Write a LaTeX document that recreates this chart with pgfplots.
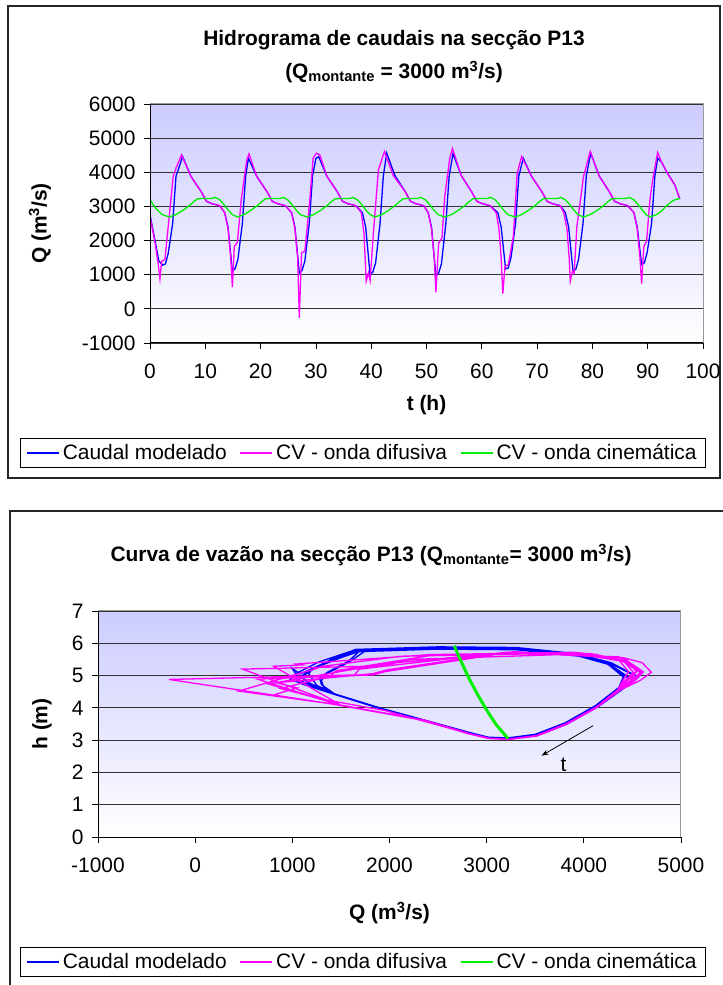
\documentclass[border=0pt]{standalone}
\usepackage{fontspec}
\setmainfont{Liberation Sans}
\usepackage{pgfplots}
\pgfplotsset{compat=1.18}
\usetikzlibrary{arrows.meta}

\definecolor{serblue}{RGB}{0,0,255}
\definecolor{serpink}{RGB}{255,0,255}
\definecolor{sergreen}{RGB}{0,240,0}
\definecolor{bgtop}{RGB}{204,204,255}

\newcommand{\fs}{\fontsize{21}{25}\selectfont}

\pgfplotsset{
  excel/.style={
    scale only axis,
    axis background/.style={shade, top color=bgtop, bottom color=white},
    axis line style={draw=gray!80, line width=1bp},
    tick align=outside,
    major tick length=6bp,
    tick style={black, line width=0.8bp},
    xtick pos=bottom, ytick pos=left,
    ymajorgrids,
    grid style={black!80, line width=0.8bp},
    tick label style={font=\fs},
    xticklabel style={yshift=-11bp},
    yticklabel style={xshift=-5bp},
    every axis plot/.append style={line width=1.3bp, mark=none},
    legend columns=3,
    legend cell align=left,
    legend style={draw=black, line width=0.8bp, fill=white, font=\fs,
      inner xsep=6bp, inner ysep=3bp,
      nodes={inner xsep=3bp, inner ysep=3bp},
      /tikz/every even column/.append style={column sep=10bp}},
    legend image code/.code={\draw[##1, line width=1.4bp] (0bp,0bp) -- (32bp,0bp);},
    after end axis/.code={\draw[black, line width=1bp] (rel axis cs:0,1) -- (rel axis cs:0,0) -- (rel axis cs:1,0);},
  }
}

\begin{document}
\begin{tikzpicture}
\useasboundingbox (0,0) rectangle (723bp,985bp);

% frames of the two chart areas
\draw[black!85, line width=1.2bp] (8bp,507bp) rectangle (720bp,979bp);
\draw[black!85, line width=1.2bp] (10bp,0bp) -- (10bp,474bp) -- (723bp,474bp);

% titles
\node[font=\fs\bfseries] at (394bp,945bp) {Hidrograma de caudais na secção P13};
\node[font=\fs\bfseries] at (394bp,913bp) {(Q\textsubscript{montante} = 3000 m\textsuperscript{3}/s)};
\node[font=\fs\bfseries, anchor=west] at (107bp,430bp) {Curva de vazão na secção P13 (Q\textsubscript{montante}= 3000 m\textsuperscript{3}/s)};

% ---------- top: hydrograph ----------
\begin{axis}[excel,
  at={(150bp,642bp)}, anchor=south west,
  width=553bp, height=239bp,
  xmin=0, xmax=100, ymin=-1000, ymax=6000,
  xtick={0,10,20,30,40,50,60,70,80,90,100},
  xticklabels={0,10,20,30,40,50,60,70,80,90,100},
  ytick={-1000,0,1000,2000,3000,4000,5000,6000},
  yticklabels={-1000,0,1000,2000,3000,4000,5000,6000},
  xlabel={t (h)}, ylabel={Q (m\textsuperscript{3}/s)},
  every axis x label/.style={at={(axis description cs:0.5,-0.259)}, anchor=center, font=\fs\bfseries},
  every axis y label/.style={at={(axis description cs:-0.199,0.5)}, rotate=90, anchor=center, font=\fs\bfseries},
  legend style={at={(axis description cs:-0.2351,-0.3975)}, anchor=north west},
]
\addplot[color=serblue] coordinates {
(0,2750) (0.9,2000) (1.6,1400) (2.3,1280) (2.8,1320) (3.3,1630) (4.1,2500) (4.7,3880) (5.9,4460)
(7.4,3880) (9.3,3420) (10.2,3150) (11.2,3080) (12.6,3020)
(13.5,2820) (14.1,2400) (14.9,1100) (15.4,1180) (15.9,1450) (16.7,2500) (17.3,3900) (17.8,4410)
(19.3,3880) (21.2,3420) (22.1,3150) (23.1,3080) (24.5,3020)
(25.6,2820) (26.2,2400) (27.0,1050) (27.5,1130) (28.0,1400) (28.8,2500) (29.4,3900) (30.0,4400) (30.5,4460)
(32.0,3880) (33.9,3420) (34.8,3150) (35.8,3080) (37.2,3020)
(38.4,2820) (39.0,2400) (39.8,1000) (40.3,1080) (40.8,1350) (41.6,2500) (42.2,3900) (42.8,4560)
(44.3,3900) (46.2,3420) (47.1,3150) (48.1,3080) (49.5,3020)
(50.3,2820) (50.9,2400) (51.7,970) (52.2,1050) (52.7,1320) (53.5,2500) (54.1,3900) (54.8,4550)
(56.3,3900) (58.2,3420) (59.1,3150) (60.1,3080) (61.5,3020)
(62.9,2820) (63.5,2400) (64.3,1170) (64.8,1200) (65.3,1520) (66.1,2500) (66.7,3900) (67.5,4410)
(69.0,3880) (70.9,3420) (71.8,3150) (72.8,3080) (74.2,3020)
(75.1,2820) (75.7,2400) (76.5,1100) (77.0,1160) (77.5,1450) (78.3,2500) (78.9,3900) (79.7,4560)
(81.2,3900) (83.1,3420) (84.0,3150) (85.0,3080) (86.4,3020)
(87.5,2820) (88.1,2400) (88.9,1300) (89.4,1350) (89.9,1650) (90.7,2500) (91.3,3900) (91.8,4410)
(92.5,4300) (93.4,4020) (94.9,3630) (95.8,3220)
};
\addlegendentry{Caudal modelado}
\addplot[color=serpink] coordinates {
(0,2700) (0.9,1950) (1.5,1300) (1.8,880) (2.1,1390) (2.7,1450) (3.3,2420) (4.2,3880) (4.7,4120) (5.7,4510)
(7.4,3880) (9.3,3420) (10.2,3150) (11.2,3080) (12.6,3020)
(13.5,2820) (14.1,2350) (14.6,1500) (14.9,640) (15.25,1830) (15.8,1950) (16.5,3195) (17.5,4360) (17.9,4540)
(19.3,3880) (21.2,3420) (22.1,3150) (23.1,3080) (24.5,3020)
(25.6,2820) (26.2,2350) (26.7,1500) (27.0,-263) (27.4,1640) (28.0,1690) (28.9,3195) (29.5,4410) (30.1,4560) (30.7,4510)
(32.0,3880) (33.9,3420) (34.8,3150) (35.8,3080) (37.2,3020)
(38.2,2820) (38.7,2200) (39.1,808) (39.5,1050) (39.8,830) (40.4,2220) (41.3,4070) (42.4,4610)
(44.0,3900) (46.2,3420) (47.1,3150) (48.1,3080) (49.5,3020)
(50.3,2820) (50.9,2350) (51.4,1500) (51.7,487) (52.2,1930) (52.8,2075) (53.3,3290) (54.2,4410) (54.7,4695)
(56.3,3900) (58.2,3420) (59.1,3150) (60.1,3080) (61.5,3020)
(62.6,2820) (63.1,2350) (63.5,1500) (63.8,448) (64.2,1250) (64.8,1296) (65.7,2120) (66.4,3975) (67.2,4460)
(69.0,3880) (70.9,3420) (71.8,3150) (72.8,3080) (74.2,3020)
(74.8,2820) (75.4,2350) (75.8,1500) (76.0,808) (76.4,1100) (76.7,1050) (77.2,2420) (78.4,3880) (79.6,4610)
(81.2,3900) (83.1,3420) (84.0,3150) (85.0,3080) (86.4,3020)
(87.5,2820) (88.1,2350) (88.6,1500) (88.9,740) (89.3,1830) (89.8,1980) (90.4,3195) (91.0,3880) (91.8,4580)
(92.5,4300) (93.4,4020) (94.9,3630) (95.8,3220)
};
\addlegendentry{CV - onda difusiva}
\addplot[color=sergreen] coordinates {
(0,3200) (1.0,2950) (2.2,2760) (3.5,2690)
(4.7,2760) (5.9,2880) (7.1,3020) (7.9,3140) (8.6,3225) (10.0,3235) (11.2,3235) (11.8,3265) (12.6,3195) (13.4,3050) (14.1,2900) (14.9,2760)
(15.8,2690) (17.0,2760) (18.2,2880) (19.4,3020) (20.2,3140) (20.9,3225) (22.3,3235) (23.5,3235) (24.1,3265) (24.9,3195) (25.7,3050) (26.4,2900) (27.2,2760)
(28.4,2690) (29.6,2760) (30.8,2880) (32.0,3020) (32.8,3140) (33.5,3225) (34.9,3235) (36.1,3235) (36.7,3265) (37.5,3195) (38.3,3050) (39.0,2900) (39.8,2760)
(40.7,2690) (41.9,2760) (43.1,2880) (44.3,3020) (45.1,3140) (45.8,3225) (47.2,3235) (48.4,3235) (49.0,3265) (49.8,3195) (50.6,3050) (51.3,2900) (52.1,2760)
(53.3,2690) (54.5,2760) (55.7,2880) (56.9,3020) (57.7,3140) (58.4,3225) (59.8,3235) (61.0,3235) (61.6,3265) (62.4,3195) (63.2,3050) (63.9,2900) (64.7,2760)
(66.0,2690) (67.2,2760) (68.4,2880) (69.6,3020) (70.4,3140) (71.1,3225) (72.5,3235) (73.7,3235) (74.3,3265) (75.1,3195) (75.9,3050) (76.6,2900) (77.4,2760)
(78.4,2690) (79.6,2760) (80.8,2880) (82.0,3020) (82.8,3140) (83.5,3225) (84.9,3235) (86.1,3235) (86.7,3265) (87.5,3195) (88.3,3050) (89.0,2900) (89.7,2760)
(90.4,2690) (91.6,2760) (92.6,2880) (93.4,3020) (94.3,3140) (95.0,3200) (95.8,3230)
};
\addlegendentry{CV - onda cinemática}
\end{axis}

% ---------- bottom: rating curve ----------
\begin{axis}[excel,
  at={(98bp,148bp)}, anchor=south west,
  width=583bp, height=226bp,
  xmin=-1000, xmax=5000, ymin=0, ymax=7,
  xtick={-1000,0,1000,2000,3000,4000,5000},
  xticklabels={-1000,0,1000,2000,3000,4000,5000},
  ytick={0,1,2,3,4,5,6,7},
  yticklabels={0,1,2,3,4,5,6,7},
  xlabel={Q (m\textsuperscript{3}/s)}, ylabel={h (m)},
  every axis x label/.style={at={(axis description cs:0.5,-0.336)}, anchor=center, font=\fs\bfseries},
  every axis y label/.style={at={(axis description cs:-0.096,0.5)}, rotate=90, anchor=center, font=\fs\bfseries},
  legend style={at={(axis description cs:-0.1338,-0.4867)}, anchor=north west},
]
\addplot[color=serblue] coordinates {
(2750,3.30) (2400,3.57) (1900,3.98) (1450,4.40) (1300,4.72)
(1280,4.92) (1360,5.10) (1580,5.45) (1700,5.78) (2500,5.86) (3300,5.84) (3950,5.64) (4250,5.38) (4460,4.95)
(4380,4.60) (4130,4.05) (3820,3.52) (3510,3.16) (3220,3.05) (3020,3.08) (2820,3.22) (2400,3.57) (1900,3.98) (1450,4.40) (1180,4.76)
(1100,4.95) (1180,5.14) (1400,5.50) (1650,5.81) (2500,5.89) (3300,5.87) (3950,5.67) (4230,5.42) (4410,4.98)
(4360,4.63) (4120,4.07) (3810,3.54) (3500,3.18) (3220,3.07) (3020,3.09) (2820,3.24) (2400,3.59) (1900,4.00) (1450,4.42) (1130,4.78)
(1050,4.88) (1130,5.06) (1350,5.40) (1680,5.74) (2500,5.82) (3300,5.80) (3950,5.60) (4260,5.34) (4460,4.92)
(4390,4.58) (4140,4.03) (3830,3.50) (3520,3.14) (3230,3.04) (3030,3.07) (2830,3.21) (2410,3.56) (1910,3.97) (1460,4.39) (1100,4.74)
(1000,5.22) (1080,5.05) (1300,5.35) (1650,5.76) (2500,5.84) (3300,5.82) (3950,5.62) (4280,5.36) (4560,4.96)
(4400,4.58) (4150,4.04) (3830,3.52) (3520,3.15) (3230,3.05) (3030,3.08) (2830,3.22) (2410,3.57) (1910,3.98) (1460,4.40) (1150,4.75)
(970,4.85) (1050,5.08) (1270,5.42) (1640,5.79) (2500,5.87) (3300,5.85) (3950,5.66) (4280,5.40) (4550,4.97)
(4400,4.61) (4140,4.06) (3820,3.53) (3510,3.17) (3220,3.06) (3020,3.09) (2820,3.23) (2400,3.58) (1900,3.99) (1450,4.41) (1250,4.70)
(1170,5.05) (1200,5.20) (1470,5.52) (1720,5.80) (2500,5.88) (3300,5.86) (3950,5.65) (4240,5.40) (4410,4.97)
(4360,4.62) (4120,4.06) (3810,3.53) (3500,3.17) (3220,3.06) (3020,3.09) (2820,3.23) (2400,3.58) (1900,3.99) (1450,4.41) (1170,4.77)
(1100,4.93) (1160,5.12) (1400,5.48) (1700,5.78) (2500,5.85) (3300,5.83) (3950,5.63) (4280,5.37) (4560,4.94)
(4400,4.59) (4140,4.04) (3820,3.51) (3510,3.15) (3220,3.05) (3020,3.08) (2820,3.22) (2400,3.57) (1900,3.98) (1450,4.40) (1320,4.65)
(1300,4.85) (1350,5.05) (1600,5.45) (1750,5.76) (2500,5.84) (3300,5.82) (3950,5.62) (4240,5.37) (4410,4.95)
(4360,4.60) (4120,4.05) (3810,3.52) (3500,3.16) (3220,3.05)
};
\addlegendentry{Caudal modelado}
\addplot[color=serpink] coordinates {
(2700,3.30) (1950,3.92) (1300,4.27)
(880,4.60) (1390,4.98) (1450,5.15) (2420,5.62) (3880,5.72) (4120,5.66) (4420,5.42) (4510,5.10) (4420,4.83)
(4350,4.55) (4130,4.02) (3820,3.50) (3510,3.13) (3220,3.02) (3020,3.05) (2820,3.19) (2350,3.61) (1500,4.07)
(640,4.89) (1830,5.02) (1950,5.12) (3195,5.70) (4360,5.58) (4450,5.44) (4540,5.13) (4450,4.85)
(4360,4.56) (4130,4.03) (3820,3.51) (3510,3.14) (3220,3.03) (3020,3.06) (2820,3.20) (2350,3.62) (1500,4.08)
(-270,4.88) (1640,5.02) (1690,5.20) (3195,5.72) (4410,5.55) (4560,5.20) (4480,4.85)
(4370,4.57) (4140,4.02) (3830,3.50) (3520,3.13) (3230,3.02) (3030,3.05) (2830,3.19) (2360,3.61) (1510,4.07)
(808,4.40) (1050,4.62) (830,4.78) (2220,5.50) (4070,5.68) (4450,5.45) (4610,5.12) (4500,4.84)
(4360,4.55) (4130,4.03) (3820,3.51) (3510,3.14) (3220,3.03) (3020,3.06) (2820,3.20) (2350,3.62) (1500,4.08)
(487,5.20) (1930,5.30) (2075,5.40) (3290,5.74) (4410,5.55) (4600,5.40) (4695,5.10) (4580,4.85)
(4380,4.56) (4140,4.03) (3830,3.51) (3520,3.14) (3230,3.03) (3030,3.06) (2830,3.20) (2360,3.62) (1510,4.08)
(448,4.52) (1250,5.22) (1296,5.28) (2120,5.60) (3975,5.70) (4360,5.48) (4460,5.12) (4400,4.84)
(4350,4.56) (4130,4.03) (3820,3.51) (3510,3.14) (3220,3.03) (3020,3.06) (2820,3.20) (2350,3.62) (1500,4.08)
(808,5.29) (1100,5.33) (1050,5.36) (2420,5.65) (3880,5.72) (4400,5.46) (4610,5.10) (4520,4.83)
(4370,4.55) (4140,4.02) (3830,3.50) (3520,3.13) (3230,3.02) (3030,3.05) (2830,3.19) (2360,3.61) (1510,4.07)
(740,4.75) (1830,5.06) (1980,5.18) (3195,5.72) (3880,5.70) (4400,5.44) (4580,5.10) (4490,4.84)
(4360,4.56) (4130,4.03) (3820,3.51) (3510,3.14) (3220,3.03)
};
\addlegendentry{CV - onda difusiva}
\addplot[color=sergreen, line width=3bp] coordinates {
(2665,5.93) (2735,5.45) (2810,4.96) (2905,4.42) (3000,3.93) (3100,3.47) (3220,3.05)
};
\addlegendentry{CV - onda cinemática}
\draw[-{Stealth[length=7bp,width=5bp]}, line width=0.8bp] (axis cs:4096,3.45) -- (axis cs:3565,2.52);
\node[font=\fs] at (axis cs:3790,2.25) {t};
\end{axis}
\end{tikzpicture}
\end{document}
